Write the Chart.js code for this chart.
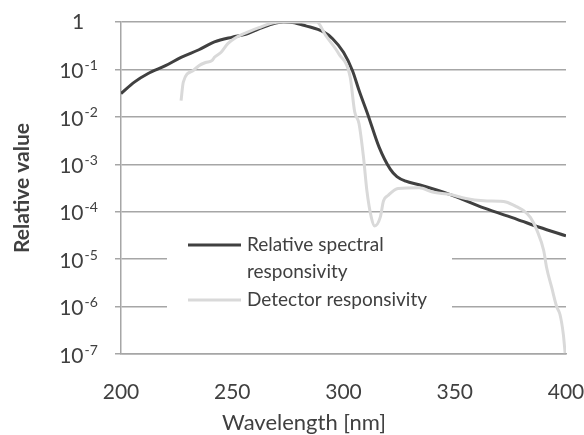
<!DOCTYPE html>
<html>
<head>
<meta charset="utf-8">
<script src="https://cdn.jsdelivr.net/npm/chart.js@4/dist/chart.umd.min.js"></script>
<style>
    html, body { margin: 0; padding: 0; background: #fff; }
    #caixa { width: 584px; height: 435px; }
</style>
</head>
<body>
<div id="caixa"><canvas id="grafico" width="584" height="435"></canvas></div>
<script>
// Relative spectral responsivity (dark line)
const comprimentoRelativo = [200, 206, 212, 220, 227, 235, 242, 250, 256, 262, 268, 273, 277, 283, 291, 295, 300, 304, 307, 311, 316, 321, 324, 328, 334, 348, 363, 378, 388, 400];
const valorRelativo = [0.031, 0.054, 0.081, 0.12, 0.18, 0.26, 0.38, 0.48, 0.55, 0.72, 0.91, 1.0, 0.98, 0.83, 0.62, 0.45, 0.23, 0.095, 0.036, 0.011, 2.3e-3, 7.9e-4, 5.5e-4, 4.4e-4, 3.7e-4, 2.3e-4, 1.2e-4, 6.9e-5, 4.7e-5, 3.1e-5];

// Detector responsivity (light line)
const comprimentoDetector = [227, 228, 232.5, 235, 238, 241, 242, 245, 248, 251, 255, 262, 268, 272, 288, 292, 298, 303, 305, 307, 309, 310.5, 312.5, 314, 316.5, 318, 320, 324.5, 334, 340, 348, 355, 363, 370, 373, 378, 381, 384, 387, 390, 391.3, 393.6, 395.8, 397.3, 398.8, 399.6];
const valorDetector = [0.022, 0.054, 0.095, 0.12, 0.14, 0.155, 0.18, 0.23, 0.35, 0.45, 0.56, 0.76, 0.95, 1.0, 1.0, 0.52, 0.21, 0.069, 0.013, 7.1e-3, 1.4e-3, 2.8e-4, 7.6e-5, 5e-5, 7.6e-5, 1.7e-4, 2.2e-4, 3.1e-4, 3.2e-4, 2.6e-4, 2.3e-4, 1.9e-4, 1.7e-4, 1.66e-4, 1.6e-4, 1.26e-4, 1.05e-4, 7.6e-5, 4e-5, 1.5e-5, 6.6e-6, 2.5e-6, 1.0e-6, 6.8e-7, 2.6e-7, 1.05e-7];

const expoentesY = [0, -1, -2, -3, -4, -5, -6, -7];
const ticksX = [200, 250, 300, 350, 400];

const nomesSeries = [["Relative spectral", "responsivity"], ["Detector responsivity"]];
const tituloX = "Wavelength [nm]";
const tituloY = "Relative value";

const corTexto = "#404040";
const corGrade = "#a6a6a6";
const corEscura = "#404040";
const corClara = "#d9d9d9";
const fonte = "Lato";

function pontos(xs, ys) {
    return xs.map((x, i) => ({ x: x, y: ys[i] }));
}

// y tick labels as 10 with superscript exponent, plus x axis title
const rotulos = {
    id: "rotulos",
    afterDraw(chart) {
        const ctx = chart.ctx;
        const escala = chart.scales.y;
        const centro = 78;
        ctx.save();
        ctx.fillStyle = corTexto;
        ctx.textBaseline = "middle";
        expoentesY.forEach(exp => {
            const py = escala.getPixelForValue(Math.pow(10, exp));
            if (exp === 0) {
                ctx.font = "21px " + fonte;
                ctx.textAlign = "center";
                ctx.fillText("1", centro, py);
                return;
            }
            ctx.font = "21px " + fonte;
            const largBase = ctx.measureText("10").width;
            ctx.font = "14px " + fonte;
            const sup = "-" + Math.abs(exp);
            const largSup = ctx.measureText(sup).width;
            const x0 = centro - (largBase + largSup) / 2;
            ctx.textAlign = "left";
            ctx.font = "21px " + fonte;
            ctx.fillText("10", x0, py + 2);
            ctx.font = "14px " + fonte;
            ctx.fillText(sup, x0 + largBase + 1, py - 4);
        });

        const area = chart.chartArea;
        ctx.font = "22px " + fonte;
        ctx.textAlign = "center";
        ctx.fillText(tituloX, area.left + 183, 423);
        ctx.restore();
    }
};

// legend box inside the plot area
const legendaInterna = {
    id: "legendaInterna",
    beforeDatasetsDraw(chart) {
        const ctx = chart.ctx;
        const area = chart.chartArea;
        const esq = area.left + 46;
        ctx.save();
        ctx.fillStyle = "#fff";
        ctx.fillRect(esq, 228, 285, 96);
        const cores = [corEscura, corClara];
        const linhasY = [245, 300];
        ctx.font = "19px " + fonte;
        ctx.textBaseline = "middle";
        ctx.textAlign = "left";
        nomesSeries.forEach((nome, i) => {
            ctx.strokeStyle = cores[i];
            ctx.lineWidth = 3;
            ctx.beginPath();
            ctx.moveTo(esq + 21, linhasY[i]);
            ctx.lineTo(esq + 74, linhasY[i]);
            ctx.stroke();
            ctx.fillStyle = corTexto;
            nome.forEach((t, j) => ctx.fillText(t, esq + 80, linhasY[i] + j * 27));
        });
        ctx.restore();
    }
};

const ctx = document.getElementById("grafico").getContext("2d");
new Chart(ctx, {
    type: "line",
    data: {
        datasets: [
            {
                label: nomesSeries[1].join(" "),
                data: pontos(comprimentoDetector, valorDetector),
                borderColor: corClara,
                borderWidth: 3,
                pointRadius: 0,
                cubicInterpolationMode: "monotone"
            },
            {
                label: nomesSeries[0].join(" "),
                data: pontos(comprimentoRelativo, valorRelativo),
                borderColor: corEscura,
                borderWidth: 3,
                pointRadius: 0,
                cubicInterpolationMode: "monotone"
            }
        ]
    },
    options: {
        responsive: false,
        animation: false,
        layout: { padding: { top: 22, right: 18, bottom: 0, left: 0 } },
        plugins: {
            legend: { display: false },
            tooltip: { enabled: false }
        },
        scales: {
            x: {
                type: "linear",
                min: 200,
                max: 400,
                afterBuildTicks: s => { s.ticks = ticksX.map(v => ({ value: v })); },
                afterFit: s => { s.height = 81; s.paddingLeft = 0; s.paddingRight = 0; },
                ticks: { color: corTexto, font: { family: fonte, size: 21 }, padding: 18, maxRotation: 0 },
                grid: { display: false },
                border: { display: true, color: corGrade, width: 1.5 }
            },
            y: {
                type: "logarithmic",
                min: 1e-7,
                max: 1,
                afterBuildTicks: s => { s.ticks = expoentesY.map(e => ({ value: Math.pow(10, e) })); },
                afterFit: s => { s.width = 121; },
                ticks: { callback: () => "" },
                grid: { color: corGrade, lineWidth: 1.5, tickLength: 6 },
                border: { color: corGrade, width: 1.5 },
                title: {
                    display: true,
                    text: tituloY,
                    color: corTexto,
                    font: { family: fonte, size: 21, weight: "bold" },
                    padding: { top: 10, bottom: 0 }
                }
            }
        }
    },
    plugins: [legendaInterna, rotulos]
});
</script>
</body>
</html>
